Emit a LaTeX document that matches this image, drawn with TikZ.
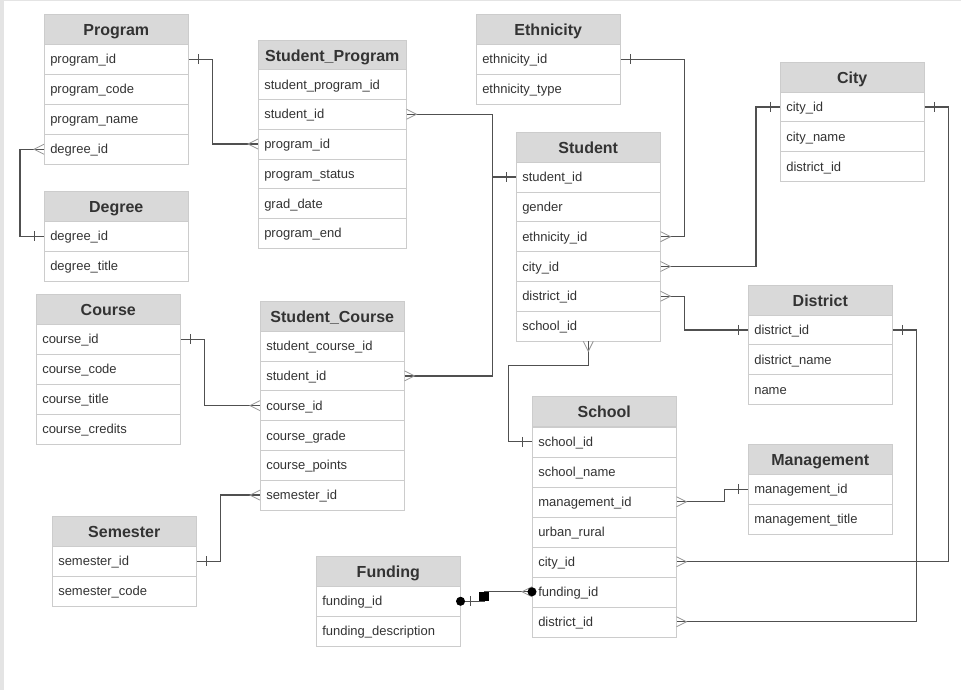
\documentclass[tikz,border=0pt]{standalone}
\usepackage{fontspec}
\setmainfont{Liberation Sans}

\definecolor{hdrgray}{RGB}{217,217,217}
\definecolor{boxgray}{RGB}{204,204,204}
\definecolor{txtgray}{RGB}{51,51,51}
\definecolor{relgray}{RGB}{80,80,80}
\definecolor{crowgray}{RGB}{150,150,150}
\definecolor{edgegray}{RGB}{228,228,228}

\tikzset{
  hdr/.style={draw=boxgray, fill=hdrgray, text=txtgray, anchor=north west,
    font=\bfseries\fontsize{12}{14}\selectfont, text height=10.5pt, text depth=1.5pt,
    minimum width=108pt, minimum height=22.5pt, inner sep=0pt},
  fld/.style={draw=boxgray, fill=white, text=txtgray, anchor=north west,
    font=\fontsize{9.75}{12}\selectfont, align=left, text height=9pt, text depth=2pt,
    text width=99pt, inner xsep=4.5pt, inner ysep=0pt, minimum height=22.5pt},
  rel/.style={draw=relgray, line width=1pt},
  footline/.style={crowgray, line width=0.6pt},
  barline/.style={relgray, line width=0.6pt},
  crowE/.pic={\draw[footline] (0,-5) -- (10,0) -- (0,5);},
  crowW/.pic={\draw[footline] (0,-5) -- (-10,0) -- (0,5);},
  crowS/.pic={\draw[footline] (-5,0) -- (0,10) -- (5,0);},
  oneE/.pic={\draw[barline] (10,-5) -- (10,5);},
  oneW/.pic={\draw[barline] (-10,-5) -- (-10,5);}
}

\begin{document}
\begin{tikzpicture}[x=0.75pt,y=-0.75pt]
% page
\fill[edgegray] (0,0) rectangle (961,690);
\fill[white] (4,1) rectangle (961,690);

% tables
\node[hdr] (prog) at (44,14) {Program};
\foreach \f/\t [count=\i] in {id/program\_id, code/program\_code, name/program\_name, deg/degree\_id}
  \node[fld] (prog-\f) at (44,14+30*\i) {\t};

\node[hdr] (deg) at (44,191) {Degree};
\foreach \f/\t [count=\i] in {id/degree\_id, title/degree\_title}
  \node[fld] (deg-\f) at (44,191+30*\i) {\t};

\node[hdr] (crs) at (36,294) {Course};
\foreach \f/\t [count=\i] in {id/course\_id, code/course\_code, title/course\_title, cred/course\_credits}
  \node[fld] (crs-\f) at (36,294+30*\i) {\t};

\node[hdr] (sem) at (52,516) {Semester};
\foreach \f/\t [count=\i] in {id/semester\_id, code/semester\_code}
  \node[fld] (sem-\f) at (52,516+30*\i) {\t};

\node[hdr, minimum width=111pt] (sp) at (258,40) {Student\_Program};
\foreach \f/\t [count=\i] in {id/student\_program\_id, stu/student\_id, prog/program\_id,
    status/program\_status, grad/grad\_date, end/program\_end}
  \node[fld, text width=102pt] (sp-\f) at (258,39.5+29.75*\i) {\t};

\node[hdr] (sc) at (260,301) {Student\_Course};
\foreach \f/\t [count=\i] in {id/student\_course\_id, stu/student\_id, crs/course\_id,
    grade/course\_grade, points/course\_points, sem/semester\_id}
  \node[fld] (sc-\f) at (260,301+29.8*\i) {\t};

\node[hdr] (fund) at (316,556) {Funding};
\foreach \f/\t [count=\i] in {id/funding\_id, desc/funding\_description}
  \node[fld] (fund-\f) at (316,556+30*\i) {\t};

\node[hdr] (eth) at (476,14) {Ethnicity};
\foreach \f/\t [count=\i] in {id/ethnicity\_id, type/ethnicity\_type}
  \node[fld] (eth-\f) at (476,14+30*\i) {\t};

\node[hdr] (stu) at (516,132) {Student};
\foreach \f/\t [count=\i] in {id/student\_id, gender/gender, eth/ethnicity\_id,
    city/city\_id, dist/district\_id, school/school\_id}
  \node[fld] (stu-\f) at (516,132+29.8*\i) {\t};

\node[hdr] (sch) at (532,396) {School};
\foreach \f/\t [count=\i] in {id/school\_id, name/school\_name, mgmt/management\_id,
    urban/urban\_rural, city/city\_id, fund/funding\_id, dist/district\_id}
  \node[fld] (sch-\f) at (532,396.5+30*\i) {\t};

\node[hdr] (city) at (780,62) {City};
\foreach \f/\t [count=\i] in {id/city\_id, name/city\_name, dist/district\_id}
  \node[fld] (city-\f) at (780,62+29.7*\i) {\t};

\node[hdr] (dist) at (748,285) {District};
\foreach \f/\t [count=\i] in {id/district\_id, name/district\_name, nm/name}
  \node[fld] (dist-\f) at (748,285+29.7*\i) {\t};

\node[hdr] (mgmt) at (748,444) {Management};
\foreach \f/\t [count=\i] in {id/management\_id, title/management\_title}
  \node[fld] (mgmt-\f) at (748,444+30*\i) {\t};

% relations
\draw[rel] (prog-id.east) -- ++(24,0) |- (sp-prog.west);
\pic at (prog-id.east) {oneE};
\pic at (sp-prog.west) {crowW};

\draw[rel] (prog-deg.west) -- ++(-24,0) |- (deg-id.west);
\pic at (prog-deg.west) {crowW};
\pic at (deg-id.west) {oneW};

\draw[rel] (sp-stu.east) -- ++(86,0) |- (stu-id.west);
\draw[rel] (sc-stu.east) -- ++(88,0) |- (stu-id.west);
\pic at (sp-stu.east) {crowE};
\pic at (sc-stu.east) {crowE};
\pic at (stu-id.west) {oneW};

\draw[rel] (crs-id.east) -- ++(24,0) |- (sc-crs.west);
\pic at (crs-id.east) {oneE};
\pic at (sc-crs.west) {crowW};

\draw[rel] (sem-id.east) -- ++(24,0) |- (sc-sem.west);
\pic at (sem-id.east) {oneE};
\pic at (sc-sem.west) {crowW};

\draw[rel] (eth-id.east) -- ++(64,0) |- (stu-eth.east);
\pic at (eth-id.east) {oneE};
\pic at (stu-eth.east) {crowE};

\draw[rel] (city-id.west) -- ++(-24,0) |- (stu-city.east);
\pic at (city-id.west) {oneW};
\pic at (stu-city.east) {crowE};

\draw[rel] (stu-dist.east) -- ++(24,0) |- (dist-id.west);
\pic at (stu-dist.east) {crowE};
\pic at (dist-id.west) {oneW};

\draw[rel] (stu-school.south) -- ++(0,24) -- ++(-80,0) |- (sch-id.west);
\pic at (stu-school.south) {crowS};
\pic at (sch-id.west) {oneW};

\draw[rel] (sch-mgmt.east) -- ++(48,0) |- (mgmt-id.west);
\pic at (sch-mgmt.east) {crowE};
\pic at (mgmt-id.west) {oneW};

\draw[rel] (city-id.east) -- ++(24,0) |- (sch-city.east);
\pic at (city-id.east) {oneE};
\pic at (sch-city.east) {crowE};

\draw[rel] (dist-id.east) -- ++(24,0) |- (sch-dist.east);
\pic at (dist-id.east) {oneE};
\pic at (sch-dist.east) {crowE};

\draw[rel] (fund-id.east) -- ++(24,0) |- (sch-fund.west);
\pic at (fund-id.east) {oneE};
\pic at (sch-fund.west) {crowW};
\node[fill=black, minimum size=7pt, inner sep=0pt] (fund-sq) at (484,596.5) {};
\fill[black] (fund-id.east) circle (3.4pt);
\fill[black] (sch-fund.west) circle (3.4pt);
\end{tikzpicture}
\end{document}
